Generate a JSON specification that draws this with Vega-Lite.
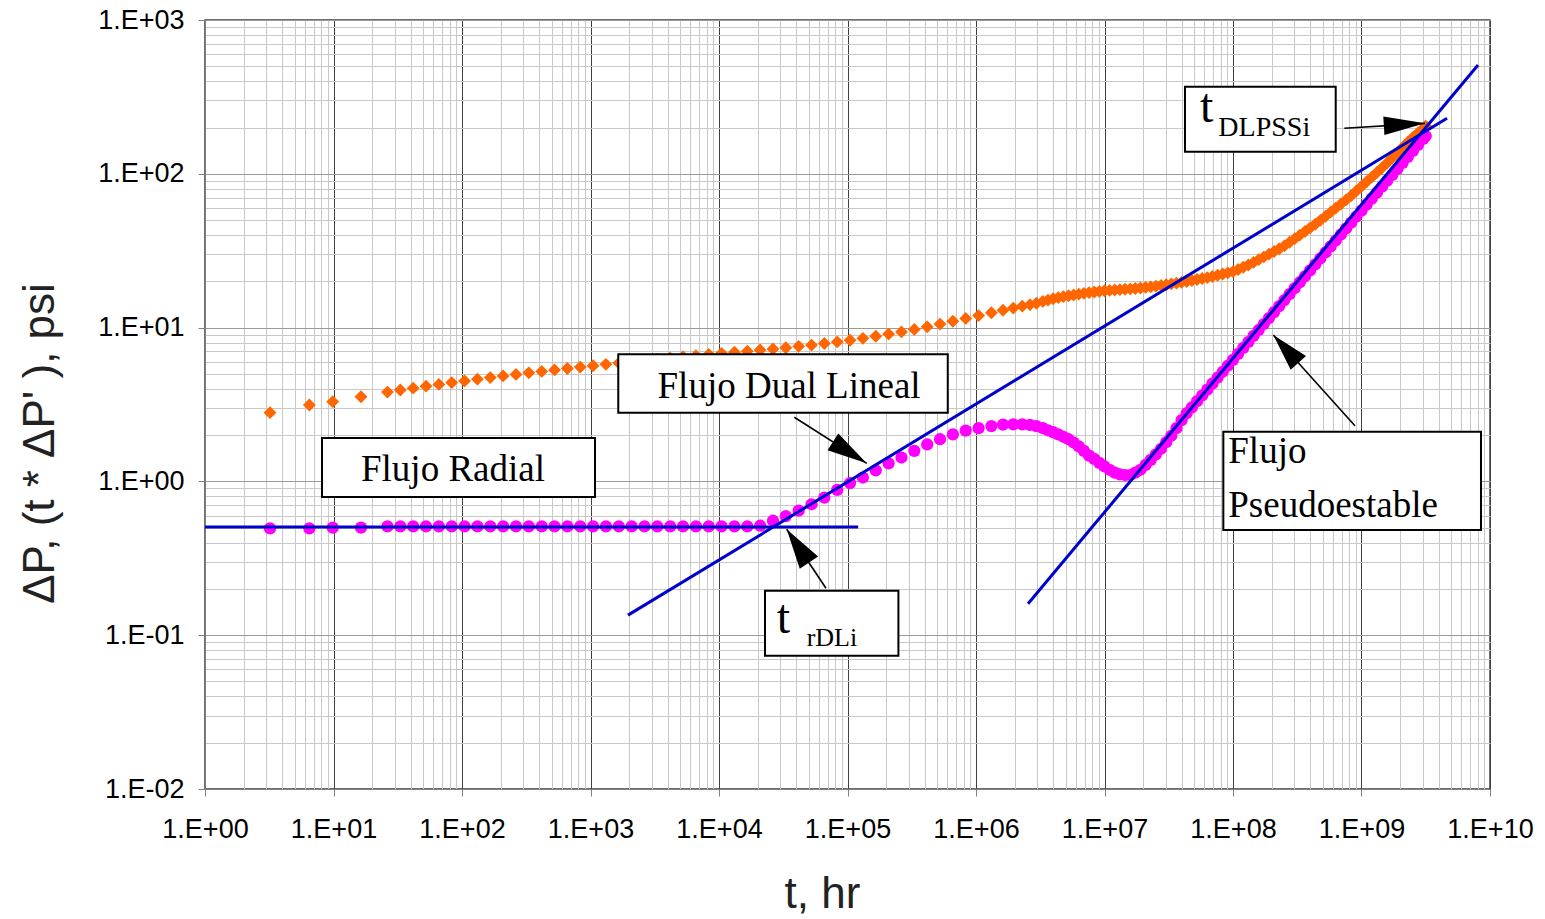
{
  "$schema": "https://vega.github.io/schema/vega-lite/v6.json",
  "width": 1285,
  "height": 769,
  "autosize": {"type": "none"},
  "padding": {"left": 205, "top": 20, "right": 55, "bottom": 130},
  "background": "white",
  "config": {
    "view": {"stroke": "#404040", "strokeWidth": 1.5},
    "axis": {"domainColor": "#808080", "tickColor": "#808080"}
  },
  "datasets": {
    "well": [
      {"t": 3.206, "dp": 2.80, "der": 0.495},
      {"t": 6.486, "dp": 3.14, "der": 0.495},
      {"t": 9.863, "dp": 3.30, "der": 0.50},
      {"t": 16.37, "dp": 3.55, "der": 0.50},
      {"t": 26.30, "dp": 3.81, "der": 0.51},
      {"t": 33.11, "dp": 3.93, "der": 0.51},
      {"t": 41.69, "dp": 4.04, "der": 0.51},
      {"t": 52.48, "dp": 4.16, "der": 0.51},
      {"t": 66.07, "dp": 4.27, "der": 0.51},
      {"t": 83.18, "dp": 4.39, "der": 0.51},
      {"t": 104.7, "dp": 4.50, "der": 0.51},
      {"t": 131.8, "dp": 4.62, "der": 0.51},
      {"t": 166.0, "dp": 4.73, "der": 0.51},
      {"t": 208.9, "dp": 4.85, "der": 0.51},
      {"t": 263.0, "dp": 4.96, "der": 0.51},
      {"t": 331.1, "dp": 5.08, "der": 0.51},
      {"t": 416.9, "dp": 5.19, "der": 0.51},
      {"t": 524.8, "dp": 5.31, "der": 0.51},
      {"t": 660.7, "dp": 5.42, "der": 0.51},
      {"t": 831.8, "dp": 5.54, "der": 0.51},
      {"t": 1047, "dp": 5.65, "der": 0.51},
      {"t": 1318, "dp": 5.77, "der": 0.51},
      {"t": 1660, "dp": 5.88, "der": 0.51},
      {"t": 2089, "dp": 6.00, "der": 0.51},
      {"t": 2630, "dp": 6.11, "der": 0.51},
      {"t": 3311, "dp": 6.23, "der": 0.51},
      {"t": 4169, "dp": 6.34, "der": 0.51},
      {"t": 5248, "dp": 6.46, "der": 0.51},
      {"t": 6607, "dp": 6.57, "der": 0.51},
      {"t": 8318, "dp": 6.69, "der": 0.51},
      {"t": 10470, "dp": 6.80, "der": 0.51},
      {"t": 13180, "dp": 6.92, "der": 0.51},
      {"t": 16600, "dp": 7.03, "der": 0.51},
      {"t": 20890, "dp": 7.15, "der": 0.515},
      {"t": 26300, "dp": 7.27, "der": 0.555},
      {"t": 33110, "dp": 7.40, "der": 0.595},
      {"t": 41690, "dp": 7.55, "der": 0.645},
      {"t": 52480, "dp": 7.70, "der": 0.71},
      {"t": 66070, "dp": 7.88, "der": 0.785},
      {"t": 83180, "dp": 8.07, "der": 0.88},
      {"t": 104700, "dp": 8.28, "der": 0.975},
      {"t": 131800, "dp": 8.52, "der": 1.06},
      {"t": 166000, "dp": 8.78, "der": 1.18},
      {"t": 208900, "dp": 9.07, "der": 1.31},
      {"t": 263000, "dp": 9.38, "der": 1.43},
      {"t": 331100, "dp": 9.73, "der": 1.58},
      {"t": 416900, "dp": 10.12, "der": 1.74},
      {"t": 524800, "dp": 10.54, "der": 1.88},
      {"t": 660700, "dp": 10.99, "der": 2.02},
      {"t": 831800, "dp": 11.47, "der": 2.14},
      {"t": 1.047e6, "dp": 11.97, "der": 2.22},
      {"t": 1.318e6, "dp": 12.49, "der": 2.29},
      {"t": 1.622e6, "dp": 12.97, "der": 2.34},
      {"t": 1.950e6, "dp": 13.40, "der": 2.35},
      {"t": 2.291e6, "dp": 13.78, "der": 2.35},
      {"t": 2.630e6, "dp": 14.10, "der": 2.33},
      {"t": 2.951e6, "dp": 14.40, "der": 2.29},
      {"t": 3.311e6, "dp": 14.8, "der": 2.22},
      {"t": 3.631e6, "dp": 15.1, "der": 2.15},
      {"t": 3.981e6, "dp": 15.4, "der": 2.09},
      {"t": 4.365e6, "dp": 15.65, "der": 2.02},
      {"t": 4.786e6, "dp": 15.9, "der": 1.95},
      {"t": 5.248e6, "dp": 16.1, "der": 1.88},
      {"t": 5.754e6, "dp": 16.3, "der": 1.79},
      {"t": 6.310e6, "dp": 16.5, "der": 1.69},
      {"t": 6.918e6, "dp": 16.7, "der": 1.58},
      {"t": 7.586e6, "dp": 16.9, "der": 1.47},
      {"t": 8.318e6, "dp": 17.05, "der": 1.40},
      {"t": 9.120e6, "dp": 17.2, "der": 1.32},
      {"t": 1.000e7, "dp": 17.35, "der": 1.25},
      {"t": 1.096e7, "dp": 17.45, "der": 1.19},
      {"t": 1.202e7, "dp": 17.55, "der": 1.14},
      {"t": 1.318e7, "dp": 17.65, "der": 1.11},
      {"t": 1.445e7, "dp": 17.75, "der": 1.10},
      {"t": 1.585e7, "dp": 17.85, "der": 1.10},
      {"t": 1.738e7, "dp": 17.95, "der": 1.14},
      {"t": 1.905e7, "dp": 18.1, "der": 1.19},
      {"t": 2.089e7, "dp": 18.25, "der": 1.28},
      {"t": 2.291e7, "dp": 18.4, "der": 1.38},
      {"t": 2.512e7, "dp": 18.6, "der": 1.50},
      {"t": 2.754e7, "dp": 18.8, "der": 1.63},
      {"t": 3.020e7, "dp": 19.0, "der": 1.80},
      {"t": 3.311e7, "dp": 19.25, "der": 1.98},
      {"t": 3.631e7, "dp": 19.45, "der": 2.22},
      {"t": 3.981e7, "dp": 19.7, "der": 2.50},
      {"t": 4.365e7, "dp": 19.95, "der": 2.78},
      {"t": 4.786e7, "dp": 20.25, "der": 3.03},
      {"t": 5.248e7, "dp": 20.55, "der": 3.32},
      {"t": 5.754e7, "dp": 20.85, "der": 3.62},
      {"t": 6.310e7, "dp": 21.15, "der": 3.95},
      {"t": 6.918e7, "dp": 21.5, "der": 4.32},
      {"t": 7.586e7, "dp": 21.9, "der": 4.72},
      {"t": 8.318e7, "dp": 22.3, "der": 5.16},
      {"t": 9.120e7, "dp": 22.7, "der": 5.65},
      {"t": 1.000e8, "dp": 23.1, "der": 6.17},
      {"t": 1.096e8, "dp": 23.86, "der": 6.75},
      {"t": 1.202e8, "dp": 24.69, "der": 7.38},
      {"t": 1.318e8, "dp": 25.53, "der": 8.07},
      {"t": 1.445e8, "dp": 26.55, "der": 8.83},
      {"t": 1.585e8, "dp": 27.65, "der": 9.65},
      {"t": 1.738e8, "dp": 28.80, "der": 10.55},
      {"t": 1.905e8, "dp": 30.01, "der": 11.54},
      {"t": 2.089e8, "dp": 31.26, "der": 12.62},
      {"t": 2.291e8, "dp": 32.56, "der": 13.80},
      {"t": 2.512e8, "dp": 34.01, "der": 15.09},
      {"t": 2.754e8, "dp": 35.89, "der": 16.50},
      {"t": 3.020e8, "dp": 37.88, "der": 18.04},
      {"t": 3.311e8, "dp": 39.96, "der": 19.72},
      {"t": 3.631e8, "dp": 42.17, "der": 21.57},
      {"t": 3.981e8, "dp": 44.50, "der": 23.58},
      {"t": 4.365e8, "dp": 46.96, "der": 25.78},
      {"t": 4.786e8, "dp": 49.81, "der": 28.19},
      {"t": 5.248e8, "dp": 52.96, "der": 30.83},
      {"t": 5.754e8, "dp": 56.31, "der": 33.71},
      {"t": 6.310e8, "dp": 59.84, "der": 36.86},
      {"t": 6.918e8, "dp": 63.63, "der": 40.31},
      {"t": 7.586e8, "dp": 67.68, "der": 44.08},
      {"t": 8.318e8, "dp": 72.08, "der": 48.19},
      {"t": 9.120e8, "dp": 77.25, "der": 52.70},
      {"t": 1.000e9, "dp": 82.79, "der": 57.63},
      {"t": 1.096e9, "dp": 88.74, "der": 63.02},
      {"t": 1.202e9, "dp": 95.11, "der": 68.91},
      {"t": 1.318e9, "dp": 101.9, "der": 75.34},
      {"t": 1.445e9, "dp": 109.3, "der": 82.39},
      {"t": 1.585e9, "dp": 117.8, "der": 90.09},
      {"t": 1.738e9, "dp": 127.3, "der": 98.49},
      {"t": 1.905e9, "dp": 137.6, "der": 107.7},
      {"t": 2.089e9, "dp": 148.6, "der": 117.8},
      {"t": 2.291e9, "dp": 160.6, "der": 128.8},
      {"t": 2.512e9, "dp": 172.6, "der": 140.8},
      {"t": 2.754e9, "dp": 184.6, "der": 154.0},
      {"t": 3.020e9, "dp": 197.6, "der": 168.4},
      {"t": 3.162e9, "dp": 204.2, "der": 176.0}
    ],
    "fits": [
      {"line": "radial", "t": 1, "v": 0.505},
      {"line": "radial", "t": 1.21e5, "v": 0.505},
      {"line": "dual-linear", "t": 1958, "v": 0.135},
      {"line": "dual-linear", "t": 4.63e9, "v": 229.6},
      {"line": "pseudosteady", "t": 2.54e6, "v": 0.16},
      {"line": "pseudosteady", "t": 8.07e9, "v": 510}
    ],
    "boxes": [
      {"name": "radial", "t0": 8.14, "t1": 1084, "v0": 1.915, "v1": 0.792},
      {"name": "dual", "t0": 1645, "t1": 6.03e5, "v0": 6.706, "v1": 2.797},
      {"name": "trdli", "t0": 2.28e4, "t1": 2.49e5, "v0": 0.1947, "v1": 0.0736},
      {"name": "tdlpssi", "t0": 4.23e7, "t1": 6.30e8, "v0": 368.4, "v1": 139.2},
      {"name": "pss", "t0": 8.41e7, "t1": 8.51e9, "v0": 2.104, "v1": 0.483}
    ],
    "arrows": [
      {"name": "dual", "t0": 3.855e4, "v0": 2.611, "t1": 1.411e5, "v1": 1.311},
      {"name": "trdli", "t0": 6.80e4, "v0": 0.2018, "t1": 3.365e4, "v1": 0.4883},
      {"name": "tdlpssi", "t0": 7.35e8, "v0": 197.6, "t1": 3.12e9, "v1": 212.9},
      {"name": "pss", "t0": 8.89e8, "v0": 2.303, "t1": 2.059e8, "v1": 8.95}
    ]
  },
  "encoding": {},
  "layer": [
    {
      "data": {"name": "well"},
      "mark": {"type": "point", "shape": "diamond", "filled": true, "size": 165, "color": "#ff6600", "opacity": 1},
      "encoding": {
        "x": {
          "field": "t", "type": "quantitative",
          "scale": {"type": "log", "domain": [1, 1e10], "nice": false},
          "axis": {
            "orient": "bottom",
            "title": "t, hr",
            "values": [1, 2, 3, 4, 5, 6, 7, 8, 9, 10, 20, 30, 40, 50, 60, 70, 80, 90, 100, 200, 300, 400, 500, 600, 700, 800, 900, 1000, 2000, 3000, 4000, 5000, 6000, 7000, 8000, 9000, 1e4, 2e4, 3e4, 4e4, 5e4, 6e4, 7e4, 8e4, 9e4, 1e5, 2e5, 3e5, 4e5, 5e5, 6e5, 7e5, 8e5, 9e5, 1e6, 2e6, 3e6, 4e6, 5e6, 6e6, 7e6, 8e6, 9e6, 1e7, 2e7, 3e7, 4e7, 5e7, 6e7, 7e7, 8e7, 9e7, 1e8, 2e8, 3e8, 4e8, 5e8, 6e8, 7e8, 8e8, 9e8, 1e9, 2e9, 3e9, 4e9, 5e9, 6e9, 7e9, 8e9, 9e9, 1e10],
            "labelExpr": "abs(log(datum.value)/LN10 - round(log(datum.value)/LN10)) < 0.001 ? '1.E' + (datum.value < 0.999 ? '-' : '+') + (abs(round(log(datum.value)/LN10)) < 10 ? '0' : '') + abs(round(log(datum.value)/LN10)) : ''",
            "labelOverlap": false,
            "labelFlush": false,
            "labelBound": false,
            "labelFont": "Liberation Sans",
            "labelFontSize": 27,
            "labelColor": "#000000",
            "labelPadding": 20,
            "tickSize": 7,
            "tickOpacity": {"condition": {"test": "abs(log(datum.value)/LN10 - round(log(datum.value)/LN10)) < 0.001", "value": 1}, "value": 0},
            "grid": true,
            "gridWidth": 1,
            "gridColor": {"condition": {"test": "abs(log(datum.value)/LN10 - round(log(datum.value)/LN10)) < 0.001", "value": "#404040"}, "value": "#c8c8c8"},
            "titleFont": "Liberation Sans",
            "titleFontSize": 44,
            "titleFontWeight": "normal",
            "titleColor": "#222222",
            "titleAlign": "center",
            "titleBaseline": "alphabetic",
            "titleX": 617,
            "titleY": 118
          }
        },
        "y": {
          "field": "dp", "type": "quantitative",
          "scale": {"type": "log", "domain": [0.01, 1000], "nice": false},
          "axis": {
            "orient": "left",
            "title": "ΔP, (t * ΔP' ), psi",
            "values": [0.01, 0.02, 0.03, 0.04, 0.05, 0.06, 0.07, 0.08, 0.09, 0.1, 0.2, 0.3, 0.4, 0.5, 0.6, 0.7, 0.8, 0.9, 1, 2, 3, 4, 5, 6, 7, 8, 9, 10, 20, 30, 40, 50, 60, 70, 80, 90, 100, 200, 300, 400, 500, 600, 700, 800, 900, 1000],
            "labelExpr": "abs(log(datum.value)/LN10 - round(log(datum.value)/LN10)) < 0.001 ? '1.E' + (datum.value < 0.999 ? '-' : '+') + (abs(round(log(datum.value)/LN10)) < 10 ? '0' : '') + abs(round(log(datum.value)/LN10)) : ''",
            "labelOverlap": false,
            "labelFlush": false,
            "labelBound": false,
            "labelFont": "Liberation Sans",
            "labelFontSize": 27,
            "labelColor": "#000000",
            "labelPadding": 14,
            "tickSize": 7,
            "tickOpacity": {"condition": {"test": "abs(log(datum.value)/LN10 - round(log(datum.value)/LN10)) < 0.001", "value": 1}, "value": 0},
            "grid": true,
            "gridWidth": 1,
            "gridColor": {"condition": {"test": "abs(log(datum.value)/LN10 - round(log(datum.value)/LN10)) < 0.001", "value": "#9a9a9a"}, "value": "#c8c8c8"},
            "titleFont": "Liberation Sans",
            "titleFontSize": 44,
            "titleFontWeight": "normal",
            "titleColor": "#222222",
            "titleAngle": 270,
            "titleAlign": "center",
            "titleBaseline": "alphabetic",
            "titleX": -152,
            "titleY": 423
          }
        }
      }
    },
    {
      "data": {"name": "well"},
      "mark": {"type": "circle", "size": 150, "color": "#ff00ff", "opacity": 1},
      "encoding": {
        "x": {"field": "t", "type": "quantitative"},
        "y": {"field": "der", "type": "quantitative"}
      }
    },
    {
      "data": {"name": "fits"},
      "mark": {"type": "line", "color": "#0000cc", "strokeWidth": 3},
      "encoding": {
        "x": {"field": "t", "type": "quantitative"},
        "y": {"field": "v", "type": "quantitative"},
        "detail": {"field": "line", "type": "nominal"}
      }
    },
    {
      "data": {"name": "boxes"},
      "mark": {"type": "rect", "fill": "white", "stroke": "black", "strokeWidth": 2},
      "encoding": {
        "x": {"field": "t0", "type": "quantitative"},
        "x2": {"field": "t1"},
        "y": {"field": "v0", "type": "quantitative"},
        "y2": {"field": "v1"}
      }
    },
    {
      "data": {"name": "arrows"},
      "mark": {"type": "rule", "color": "black", "strokeWidth": 1.6},
      "encoding": {
        "x": {"field": "t0", "type": "quantitative"},
        "y": {"field": "v0", "type": "quantitative"},
        "x2": {"field": "t1"},
        "y2": {"field": "v1"}
      }
    },
    {
      "data": {"name": "arrows"},
      "transform": [{"filter": "datum.name === 'dual'"}],
      "mark": {"type": "point", "shape": "M0,0L0.5,2L-0.5,2Z", "size": 1600, "filled": true, "color": "black", "opacity": 1, "angle": 122.4},
      "encoding": {
        "x": {"field": "t1", "type": "quantitative"},
        "y": {"field": "v1", "type": "quantitative"}
      }
    },
    {
      "data": {"name": "arrows"},
      "transform": [{"filter": "datum.name === 'trdli'"}],
      "mark": {"type": "point", "shape": "M0,0L0.55,2L-0.55,2Z", "size": 1600, "filled": true, "color": "black", "opacity": 1, "angle": 326.3},
      "encoding": {
        "x": {"field": "t1", "type": "quantitative"},
        "y": {"field": "v1", "type": "quantitative"}
      }
    },
    {
      "data": {"name": "arrows"},
      "transform": [{"filter": "datum.name === 'tdlpssi'"}],
      "mark": {"type": "point", "shape": "M0,0L0.45,2L-0.45,2Z", "size": 1700, "filled": true, "color": "black", "opacity": 1, "angle": 86.5},
      "encoding": {
        "x": {"field": "t1", "type": "quantitative"},
        "y": {"field": "v1", "type": "quantitative"}
      }
    },
    {
      "data": {"name": "arrows"},
      "transform": [{"filter": "datum.name === 'pss'"}],
      "mark": {"type": "point", "shape": "M0,0L0.55,2L-0.55,2Z", "size": 1400, "filled": true, "color": "black", "opacity": 1, "angle": 318},
      "encoding": {
        "x": {"field": "t1", "type": "quantitative"},
        "y": {"field": "v1", "type": "quantitative"}
      }
    },
    {
      "data": {"values": [
        {"label": "Flujo Radial", "t": 85.1, "v": 1.0},
        {"label": "Flujo Dual Lineal", "t": 3.51e4, "v": 3.47}
      ]},
      "mark": {"type": "text", "font": "Liberation Serif", "fontSize": 37, "align": "center", "baseline": "alphabetic", "color": "black"},
      "encoding": {
        "x": {"field": "t", "type": "quantitative"},
        "y": {"field": "v", "type": "quantitative"},
        "text": {"field": "label"}
      }
    },
    {
      "data": {"values": [
        {"label": "Flujo", "t": 9.19e7, "v": 1.311},
        {"label": "Pseudoestable", "t": 9.19e7, "v": 0.5895}
      ]},
      "mark": {"type": "text", "font": "Liberation Serif", "fontSize": 37, "align": "left", "baseline": "alphabetic", "color": "black"},
      "encoding": {
        "x": {"field": "t", "type": "quantitative"},
        "y": {"field": "v", "type": "quantitative"},
        "text": {"field": "label"}
      }
    },
    {
      "data": {"values": [
        {"label": "t", "t": 2.81e4, "v": 0.1029},
        {"label": "t", "t": 5.53e7, "v": 218.2}
      ]},
      "mark": {"type": "text", "font": "Liberation Serif", "fontSize": 48, "align": "left", "baseline": "alphabetic", "color": "black"},
      "encoding": {
        "x": {"field": "t", "type": "quantitative"},
        "y": {"field": "v", "type": "quantitative"},
        "text": {"field": "label"}
      }
    },
    {
      "data": {"values": [
        {"label": "DLPSSi", "t": 7.69e7, "v": 176.1}
      ]},
      "mark": {"type": "text", "font": "Liberation Serif", "fontSize": 28, "align": "left", "baseline": "alphabetic", "color": "black"},
      "encoding": {
        "x": {"field": "t", "type": "quantitative"},
        "y": {"field": "v", "type": "quantitative"},
        "text": {"field": "label"}
      }
    },
    {
      "data": {"values": [
        {"label": "rDLi", "t": 4.81e4, "v": 0.0851}
      ]},
      "mark": {"type": "text", "font": "Liberation Serif", "fontSize": 26, "align": "left", "baseline": "alphabetic", "color": "black"},
      "encoding": {
        "x": {"field": "t", "type": "quantitative"},
        "y": {"field": "v", "type": "quantitative"},
        "text": {"field": "label"}
      }
    }
  ]
}
